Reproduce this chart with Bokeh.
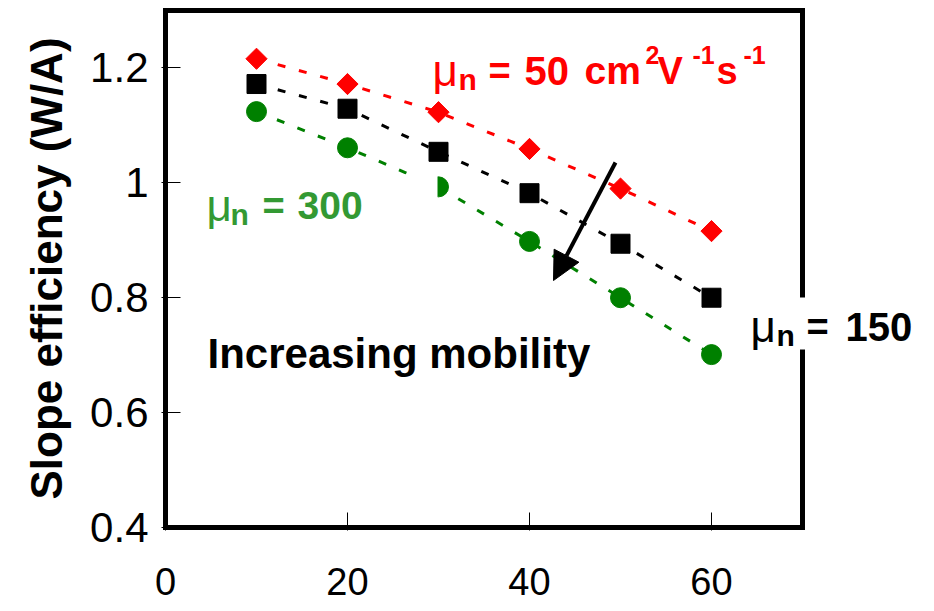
from bokeh.plotting import figure
from bokeh.models import Range1d, FixedTicker, Label, Arrow, NormalHead, BoxAnnotation
from bokeh.embed import file_html
from bokeh.resources import INLINE

# ---- data ----
x_vals = [10, 20, 30, 40, 50, 60]
mu50 = [1.216, 1.172, 1.123, 1.059, 0.990, 0.916]
mu150 = [1.172, 1.129, 1.054, 0.982, 0.894, 0.800]
mu300 = [1.124, 1.061, 0.993, 0.898, 0.800, 0.701]
x_ticks = [0, 20, 40, 60]
x_tick_labels = ["0", "20", "40", "60"]
y_ticks = [0.4, 0.6, 0.8, 1.0, 1.2]
y_tick_labels = ["0.4", "0.6", "0.8", "1", "1.2"]
X0, X1, Y0, Y1 = 0, 70, 0.4, 1.3          # extent of the boxed plot area

# ---- geometry (pixels) ----
W, H = 926, 611
BL, BR, BT, BB = 165, 802, 10, 527        # centre lines of the black box
FL, FT, FB = 161, 6, 530                  # drawing frame (frame extends to the right edge)
TXT_DY = 14                               # baseline correction for labels


def X(px):
    return X0 + (px - BL) / (BR - BL) * (X1 - X0)


def Y(py):
    return Y1 - (py - BT) / (BB - BT) * (Y1 - Y0)


p = figure(width=W, height=H, x_range=Range1d(X(FL), X(W)), y_range=Range1d(Y(FB), Y(FT)),
           output_backend="svg", toolbar_location=None,
           min_border_left=FL, min_border_right=0,
           min_border_top=FT, min_border_bottom=H - FB)
p.xgrid.visible = False
p.ygrid.visible = False
p.outline_line_color = None
p.background_fill_color = "white"
p.border_fill_color = "white"

for ax, ticks, labels in ((p.xaxis[0], x_ticks, x_tick_labels), (p.yaxis[0], y_ticks, y_tick_labels)):
    ax.ticker = FixedTicker(ticks=ticks)
    ax.major_label_overrides = {t: l for t, l in zip(ticks, labels)}
    ax.axis_line_color = None
    ax.major_tick_out = 0
    ax.major_tick_line_width = 1
    ax.major_tick_line_color = "black"
    ax.minor_tick_line_color = None
    ax.major_label_text_font = "Liberation Sans"
    ax.major_label_text_color = "black"

p.xaxis.major_tick_in = 18
p.yaxis.major_tick_in = 19
p.xaxis.major_label_text_font_size = "38px"
p.yaxis.major_label_text_font_size = "42px"
p.xaxis.major_label_standoff = 37
p.yaxis.major_label_standoff = 13
p.yaxis.axis_label = "Slope efficiency (W/A)"
p.yaxis.axis_label_text_font = "Liberation Sans"
p.yaxis.axis_label_text_font_size = "44px"
p.yaxis.axis_label_text_font_style = "bold"
p.yaxis.axis_label_text_color = "black"
p.yaxis.axis_label_standoff = 16

RED, BLACK, GREEN = "#FF0000", "#000000", "#008000"
for ys, c in ((mu50, RED), (mu150, BLACK), (mu300, GREEN)):
    p.line(x_vals, ys, line_color=c, line_width=3, line_dash="8 14")
p.scatter(x_vals, mu50, marker="square", angle=0.785398, size=15, color=RED)
p.scatter(x_vals, mu150, marker="square", size=19, color=BLACK)
p.scatter(x_vals, mu300, marker="circle", size=20, color=GREEN)

# black box around the plot area
p.add_layout(BoxAnnotation(left=X0, right=X1, bottom=Y0, top=Y1, fill_alpha=0,
                           line_color="black", line_alpha=1, line_width=5, line_join="miter"))
# white text boxes of the original slide
p.add_layout(BoxAnnotation(left=X(196), right=X(437), top=Y(174), bottom=Y(232),
                           fill_color="white", fill_alpha=1, line_color=None))
p.add_layout(BoxAnnotation(left=X(745), right=X(W), top=Y(297), bottom=Y(349),
                           fill_color="white", fill_alpha=1, line_color=None))


def lab(text, px, py, size, color, bold=True, font="Liberation Sans"):
    p.add_layout(Label(x=X(px), y=Y(py - TXT_DY), text=text, text_font=font,
                       text_font_size=f"{size}px",
                       text_font_style="bold" if bold else "normal",
                       text_color=color, text_align="left", text_baseline="alphabetic"))


LGREEN = "#339933"
# mu_n = 50 cm^2 V^-1 s^-1
lab("\u03bc", 432, 84, 44, RED, bold=False)
lab("n", 458, 93, 30, RED)
lab("=", 488, 84, 38, RED)
lab("50", 524, 84, 40, RED)
lab("cm", 584, 84, 39, RED)
lab("2", 645, 68, 25, RED)
lab("V", 657, 84, 38, RED)
lab("-1", 692, 68, 25, RED)
lab("s", 716, 84, 38, RED)
lab("-1", 743, 68, 25, RED)
# mu_n = 300
lab("\u03bc", 206, 219, 44, LGREEN, bold=False)
lab("n", 230, 228, 30, LGREEN)
lab("=", 262, 219, 38, LGREEN)
lab("300", 297, 219, 39, LGREEN)
# mu_n = 150
lab("\u03bc", 750, 340, 44, BLACK, bold=False)
lab("n", 776, 349, 30, BLACK)
lab("=", 806, 340, 38, BLACK)
lab("150", 845, 340, 40, BLACK)
# Increasing mobility
lab("Increasing mobility", 207, 367, 42, BLACK)

p.add_layout(Arrow(end=NormalHead(size=28, fill_color="black", line_color="black"),
                   x_start=X(615), y_start=Y(162), x_end=X(553), y_end=Y(280),
                   line_width=4, line_color="black"))

open("out.html", "w").write(file_html(p, INLINE))
